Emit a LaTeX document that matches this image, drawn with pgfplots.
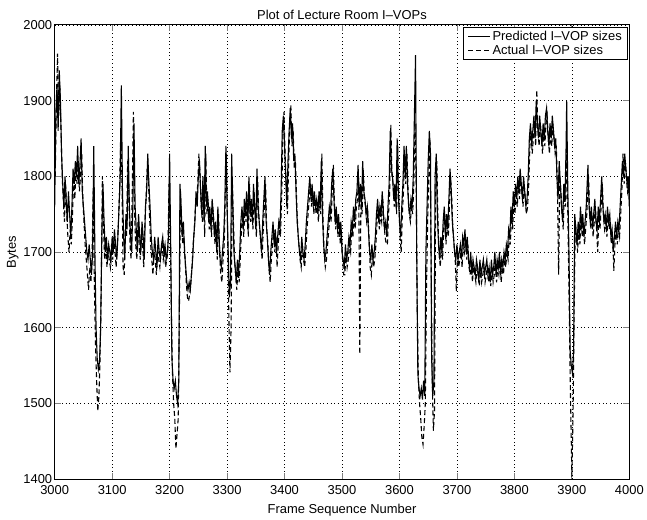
\documentclass[border=0pt]{standalone}
\usepackage{fontspec}
\setmainfont{Liberation Sans}
\usepackage{pgfplots}
\pgfplotsset{compat=1.18}
\begin{document}
\begin{tikzpicture}
\begin{axis}[
    scale only axis,
    width=578pt, height=457pt,
    xmin=3000, xmax=4000, ymin=1400, ymax=2000,
    xtick={3000,3100,...,4000},
    ytick={1400,1500,...,2000},
    /pgf/number format/1000 sep={},
    /pgf/number format/assume math mode=true,
    tick label style={font=\fontsize{13}{15}\selectfont},
    xticklabel style={yshift=-3pt},
    yticklabel style={xshift=1pt},
    tick align=inside,
    major tick length=6pt,
    tick style={line width=0.8pt},
    grid=major,
    grid style={black, line width=0.7pt, dash pattern=on 0.7pt off 3pt},
    xlabel={Frame Sequence Number},
    ylabel={Bytes},
    label style={font=\fontsize{13}{15}\selectfont},
    xlabel style={yshift=-2pt},
    ylabel style={yshift=-2pt},
    title={Plot of Lecture Room I--VOPs},
    title style={font=\fontsize{13}{15}\selectfont, yshift=-4pt},
    axis line style={line width=1pt},
    legend style={at={(0.998,0.995)}, anchor=north east, draw=black, line width=0.8pt,
        font=\fontsize{13}{16}\selectfont, inner xsep=4pt, inner ysep=1.5pt, row sep=-1pt},
    legend cell align=left,
    legend image code/.code={\draw[#1, line width=1pt] (0pt,0pt) -- (22pt,0pt);},
]
% predicted sizes
\addplot[black, line width=1.1pt] coordinates {
(3000,1760) (3002,1880) (3004,1920) (3006,1860) (3008,1940) (3010,1900) (3012,1830) (3014,1790) (3016,1760) (3018,1800) (3020,1770) (3022,1740) (3024,1780) (3026,1750) (3028,1720) (3030,1760) (3032,1810) (3034,1790) (3036,1820) (3038,1800) (3040,1840) (3042,1790) (3044,1815) (3046,1850) (3048,1780) (3050,1760)
(3052,1740) (3054,1720) (3056,1700) (3058,1690) (3060,1710) (3062,1690) (3064,1670) (3066,1700) (3068,1840) (3070,1700) (3072,1600) (3074,1560) (3076,1545) (3078,1555) (3080,1600) (3082,1720) (3084,1790) (3086,1740) (3088,1700) (3090,1720) (3092,1690) (3094,1710) (3096,1700) (3098,1690) (3100,1720)
(3102,1700) (3104,1730) (3106,1710) (3108,1690) (3110,1720) (3112,1760) (3114,1800) (3116,1920) (3118,1780) (3120,1720) (3122,1690) (3124,1750) (3126,1730) (3128,1840) (3130,1760) (3132,1720) (3134,1700) (3136,1760) (3138,1870) (3140,1760) (3142,1730) (3144,1700) (3146,1750) (3148,1720) (3150,1700)
(3152,1740) (3154,1720) (3156,1690) (3158,1760) (3160,1780) (3162,1830) (3164,1790) (3166,1760) (3168,1720) (3170,1700) (3172,1690) (3174,1720) (3176,1700) (3178,1680) (3180,1720) (3182,1700) (3184,1690) (3186,1710) (3188,1720) (3190,1700) (3192,1710) (3194,1690) (3196,1700) (3198,1720) (3200,1830)
(3202,1700) (3204,1560) (3206,1530) (3208,1520) (3210,1530) (3212,1510) (3214,1500) (3216,1530) (3218,1790) (3220,1760) (3222,1720) (3224,1740) (3226,1700) (3228,1680) (3230,1660) (3232,1650) (3234,1660) (3236,1650) (3238,1670) (3240,1690) (3242,1720) (3244,1740) (3246,1780) (3248,1760) (3250,1800)
(3252,1820) (3254,1780) (3256,1750) (3258,1800) (3260,1740) (3262,1840) (3264,1760) (3266,1780) (3268,1740) (3270,1760) (3272,1730) (3274,1770) (3276,1750) (3278,1720) (3280,1740) (3282,1700) (3284,1760) (3286,1720) (3288,1690) (3290,1680) (3292,1700) (3294,1720) (3296,1760) (3298,1840) (3300,1760)
(3302,1700) (3304,1640) (3306,1660) (3308,1830) (3310,1760) (3312,1700) (3314,1680) (3316,1660) (3318,1690) (3320,1670) (3322,1700) (3324,1740) (3326,1760) (3328,1730) (3330,1770) (3332,1750) (3334,1780) (3336,1730) (3338,1800) (3340,1750) (3342,1770) (3344,1740) (3346,1790) (3348,1760) (3350,1730)
(3352,1810) (3354,1760) (3356,1740) (3358,1720) (3360,1700) (3362,1740) (3364,1770) (3366,1800) (3368,1740) (3370,1720) (3372,1690) (3374,1670) (3376,1700) (3378,1720) (3380,1740) (3382,1710) (3384,1730) (3386,1700) (3388,1720) (3390,1740) (3392,1730) (3394,1780) (3396,1860) (3398,1880) (3400,1840)
(3402,1800) (3404,1760) (3406,1820) (3408,1860) (3410,1890) (3412,1850) (3414,1870) (3416,1820) (3418,1830) (3420,1780) (3422,1740) (3424,1720) (3426,1700) (3428,1690) (3430,1720) (3432,1700) (3434,1690) (3436,1710) (3438,1740) (3440,1760) (3442,1780) (3444,1800) (3446,1770) (3448,1790) (3450,1760)
(3452,1780) (3454,1760) (3456,1770) (3458,1750) (3460,1780) (3462,1760) (3464,1820) (3466,1750) (3468,1710) (3470,1690) (3472,1700) (3474,1720) (3476,1740) (3478,1760) (3480,1750) (3482,1790) (3484,1810) (3486,1770) (3488,1740) (3490,1760) (3492,1730) (3494,1750) (3496,1720) (3498,1740) (3500,1700)
(3502,1690) (3504,1680) (3506,1710) (3508,1690) (3510,1700) (3512,1720) (3514,1710) (3516,1740) (3518,1730) (3520,1760) (3522,1740) (3524,1770) (3526,1780) (3528,1815) (3530,1760) (3532,1790) (3534,1760) (3536,1820) (3538,1780) (3540,1770) (3542,1750) (3544,1760) (3546,1730) (3548,1700) (3550,1690)
(3552,1710) (3554,1690) (3556,1700) (3558,1720) (3560,1750) (3562,1770) (3564,1740) (3566,1760) (3568,1750) (3570,1780) (3572,1750) (3574,1730) (3576,1740) (3578,1720) (3580,1760) (3582,1790) (3584,1860) (3586,1810) (3588,1800) (3590,1770) (3592,1790) (3594,1760) (3596,1850) (3598,1780) (3600,1740)
(3602,1720) (3604,1760) (3606,1790) (3608,1840) (3610,1800) (3612,1840) (3614,1790) (3616,1760) (3618,1750) (3620,1770) (3622,1760) (3624,1800) (3626,1880) (3628,1960) (3630,1700) (3632,1540) (3634,1520) (3636,1510) (3638,1520) (3640,1505) (3642,1530) (3644,1510) (3646,1700) (3648,1760) (3650,1820)
(3652,1860) (3654,1830) (3656,1560) (3658,1510) (3660,1530) (3662,1800) (3664,1830) (3666,1750) (3668,1710) (3670,1690) (3672,1720) (3674,1700) (3676,1740) (3678,1760) (3680,1720) (3682,1750) (3684,1730) (3686,1770) (3688,1810) (3690,1780) (3692,1740) (3694,1720) (3696,1700) (3698,1690) (3700,1710)
(3702,1690) (3704,1700) (3706,1710) (3708,1690) (3710,1720) (3712,1710) (3714,1730) (3716,1700) (3718,1720) (3720,1690) (3722,1680) (3724,1700) (3726,1670) (3728,1690) (3730,1680) (3732,1670) (3734,1690) (3736,1680) (3738,1660) (3740,1690) (3742,1670) (3744,1680) (3746,1690) (3748,1670) (3750,1680)
(3752,1690) (3754,1670) (3756,1680) (3758,1660) (3760,1690) (3762,1670) (3764,1680) (3766,1700) (3768,1670) (3770,1690) (3772,1680) (3774,1700) (3776,1670) (3778,1690) (3780,1680) (3782,1700) (3784,1690) (3786,1710) (3788,1700) (3790,1730) (3792,1720) (3794,1760) (3796,1740) (3798,1780) (3800,1760)
(3802,1790) (3804,1770) (3806,1800) (3808,1780) (3810,1810) (3812,1790) (3814,1770) (3816,1800) (3818,1780) (3820,1760) (3822,1770) (3824,1800) (3826,1850) (3828,1870) (3830,1840) (3832,1860) (3834,1880) (3836,1850) (3838,1900) (3840,1870) (3842,1850) (3844,1880) (3846,1860) (3848,1840) (3850,1870)
(3852,1850) (3854,1880) (3856,1890) (3858,1860) (3860,1840) (3862,1870) (3864,1850) (3866,1880) (3868,1860) (3870,1840) (3872,1850) (3874,1800) (3876,1770) (3878,1820) (3880,1790) (3882,1760) (3884,1740) (3886,1790) (3888,1770) (3890,1840) (3891,1900) (3893,1780) (3895,1700) (3897,1570) (3899,1550) (3901,1540) (3903,1570) (3905,1750)
(3907,1730) (3909,1710) (3911,1740) (3913,1720) (3915,1760) (3917,1730) (3919,1750) (3921,1720) (3923,1740) (3925,1760) (3928,1815) (3930,1760) (3932,1740) (3934,1760) (3936,1730) (3938,1750) (3940,1770) (3942,1740) (3944,1730) (3946,1760) (3948,1740) (3950,1770) (3952,1800) (3954,1760) (3956,1740)
(3958,1750) (3960,1730) (3962,1760) (3964,1740) (3966,1750) (3968,1720) (3970,1730) (3972,1700) (3974,1720) (3976,1740) (3978,1720) (3980,1740) (3982,1730) (3984,1760) (3986,1790) (3988,1820) (3990,1800) (3992,1830) (3994,1810) (3996,1790) (3998,1800) (4000,1760)
};
\addlegendentry{Predicted I--VOP sizes}
% actual sizes
\addplot[black, line width=1.1pt, dash pattern=on 5pt off 3pt] coordinates {
(3001,1800) (3003,1900) (3005,1962) (3007,1880) (3009,1920) (3011,1860) (3013,1800) (3015,1770) (3017,1740) (3019,1790) (3021,1750) (3023,1720) (3025,1700) (3027,1730) (3029,1710) (3031,1750) (3033,1800) (3035,1770) (3037,1810) (3039,1790) (3041,1820) (3043,1780) (3045,1800) (3047,1830) (3049,1770)
(3051,1740) (3053,1710) (3055,1690) (3057,1670) (3059,1650) (3061,1680) (3063,1660) (3065,1690) (3067,1780) (3069,1660) (3071,1580) (3073,1530) (3075,1490) (3077,1510) (3079,1560) (3081,1650) (3083,1800) (3085,1730) (3087,1690) (3089,1710) (3091,1680) (3093,1700) (3095,1690) (3097,1680) (3099,1710)
(3101,1690) (3103,1720) (3105,1700) (3107,1680) (3109,1710) (3111,1740) (3113,1780) (3115,1860) (3117,1800) (3119,1680) (3121,1670) (3123,1730) (3125,1720) (3127,1820) (3129,1780) (3131,1710) (3133,1690) (3135,1780) (3137,1885) (3139,1750) (3141,1710) (3143,1690) (3145,1740) (3147,1710) (3149,1690)
(3151,1730) (3153,1710) (3155,1680) (3157,1740) (3159,1770) (3161,1810) (3163,1800) (3165,1750) (3167,1710) (3169,1690) (3171,1670) (3173,1700) (3175,1690) (3177,1670) (3179,1700) (3181,1690) (3183,1680) (3185,1700) (3187,1710) (3189,1690) (3191,1700) (3193,1680) (3195,1690) (3197,1700) (3199,1790)
(3201,1740) (3203,1620) (3205,1540) (3207,1500) (3209,1480) (3211,1440) (3213,1460) (3215,1480) (3217,1620) (3219,1780) (3221,1730) (3223,1710) (3225,1720) (3227,1690) (3229,1660) (3231,1640) (3233,1635) (3235,1645) (3237,1660) (3239,1680) (3241,1710) (3243,1730) (3245,1760) (3247,1770) (3249,1790)
(3251,1830) (3253,1800) (3255,1760) (3257,1740) (3259,1790) (3261,1720) (3263,1830) (3265,1750) (3267,1770) (3269,1730) (3271,1750) (3273,1720) (3275,1760) (3277,1740) (3279,1710) (3281,1730) (3283,1690) (3285,1750) (3287,1700) (3289,1670) (3291,1660) (3293,1690) (3295,1710) (3297,1780) (3299,1830)
(3301,1720) (3303,1620) (3305,1541) (3307,1600) (3309,1800) (3311,1740) (3313,1690) (3315,1670) (3317,1650) (3319,1680) (3321,1660) (3323,1690) (3325,1730) (3327,1750) (3329,1720) (3331,1760) (3333,1740) (3335,1770) (3337,1720) (3339,1790) (3341,1740) (3343,1760) (3345,1730) (3347,1780) (3349,1750)
(3351,1720) (3353,1800) (3355,1750) (3357,1730) (3359,1710) (3361,1690) (3363,1730) (3365,1760) (3367,1790) (3369,1730) (3371,1710) (3373,1680) (3375,1660) (3377,1690) (3379,1710) (3381,1730) (3383,1700) (3385,1720) (3387,1680) (3389,1710) (3391,1730) (3393,1720) (3395,1770) (3397,1850) (3399,1885)
(3401,1830) (3403,1790) (3405,1750) (3407,1810) (3409,1870) (3411,1894) (3413,1840) (3415,1860) (3417,1810) (3419,1820) (3421,1770) (3423,1730) (3425,1710) (3427,1690) (3429,1680) (3431,1710) (3433,1690) (3435,1680) (3437,1700) (3439,1730) (3441,1750) (3443,1770) (3445,1790) (3447,1760) (3449,1780)
(3451,1750) (3453,1770) (3455,1750) (3457,1760) (3459,1740) (3461,1770) (3463,1750) (3465,1830) (3467,1740) (3469,1700) (3471,1680) (3473,1690) (3475,1710) (3477,1730) (3479,1750) (3481,1740) (3483,1780) (3485,1815) (3487,1760) (3489,1730) (3491,1750) (3493,1720) (3495,1740) (3497,1710) (3499,1730)
(3501,1690) (3503,1670) (3505,1670) (3507,1700) (3509,1680) (3511,1690) (3513,1710) (3515,1700) (3517,1730) (3519,1720) (3521,1750) (3523,1730) (3525,1760) (3527,1770) (3529,1800) (3531,1565) (3533,1780) (3535,1750) (3537,1810) (3539,1770) (3541,1760) (3543,1740) (3545,1750) (3547,1720) (3549,1680)
(3551,1670) (3553,1700) (3555,1680) (3557,1690) (3559,1710) (3561,1740) (3563,1760) (3565,1730) (3567,1750) (3569,1740) (3571,1770) (3573,1740) (3575,1720) (3577,1710) (3579,1710) (3581,1750) (3583,1780) (3585,1868) (3587,1800) (3589,1790) (3591,1760) (3593,1780) (3595,1750) (3597,1840) (3599,1770)
(3601,1720) (3603,1700) (3605,1750) (3607,1780) (3609,1830) (3611,1790) (3613,1830) (3615,1780) (3617,1750) (3619,1740) (3621,1760) (3623,1750) (3625,1790) (3627,1870) (3629,1800) (3631,1620) (3633,1530) (3635,1500) (3637,1480) (3639,1455) (3641,1446) (3643,1470) (3645,1500) (3647,1650) (3649,1740) (3651,1800)
(3653,1850) (3655,1700) (3657,1530) (3659,1464) (3661,1490) (3663,1780) (3665,1820) (3667,1740) (3669,1700) (3671,1680) (3673,1710) (3675,1690) (3677,1730) (3679,1750) (3681,1710) (3683,1740) (3685,1720) (3687,1760) (3689,1800) (3691,1770) (3693,1730) (3695,1710) (3697,1690) (3699,1648) (3701,1700)
(3703,1680) (3705,1690) (3707,1700) (3709,1680) (3711,1710) (3713,1700) (3715,1720) (3717,1690) (3719,1710) (3721,1680) (3723,1670) (3725,1690) (3727,1660) (3729,1680) (3731,1670) (3733,1660) (3735,1680) (3737,1670) (3739,1655) (3741,1680) (3743,1660) (3745,1670) (3747,1680) (3749,1660) (3751,1670)
(3753,1680) (3755,1660) (3757,1670) (3759,1655) (3761,1680) (3763,1660) (3765,1670) (3767,1690) (3769,1660) (3771,1680) (3773,1670) (3775,1690) (3777,1660) (3779,1680) (3781,1670) (3783,1690) (3785,1680) (3787,1700) (3789,1690) (3791,1720) (3793,1710) (3795,1750) (3797,1730) (3799,1770) (3801,1750)
(3803,1780) (3805,1760) (3807,1790) (3809,1770) (3811,1800) (3813,1780) (3815,1760) (3817,1790) (3819,1770) (3821,1750) (3823,1760) (3825,1790) (3827,1840) (3829,1860) (3831,1830) (3833,1850) (3835,1870) (3837,1840) (3839,1914) (3841,1860) (3843,1840) (3845,1870) (3847,1850) (3849,1830) (3851,1860)
(3853,1840) (3855,1870) (3857,1880) (3859,1850) (3861,1830) (3863,1860) (3865,1840) (3867,1870) (3869,1850) (3871,1830) (3873,1840) (3875,1780) (3877,1670) (3879,1800) (3881,1780) (3883,1750) (3885,1730) (3887,1780) (3889,1760) (3891,1830) (3893,1750) (3895,1650) (3897,1540) (3899,1450) (3900,1403) (3902,1480) (3904,1620) (3906,1740)
(3908,1720) (3910,1700) (3912,1730) (3914,1710) (3916,1750) (3918,1720) (3920,1740) (3922,1710) (3924,1730) (3926,1750) (3929,1800) (3931,1750) (3933,1730) (3935,1750) (3937,1720) (3939,1740) (3941,1760) (3943,1730) (3945,1700) (3947,1750) (3949,1730) (3951,1760) (3953,1790) (3955,1750) (3957,1730)
(3959,1740) (3961,1720) (3963,1750) (3965,1730) (3967,1740) (3969,1710) (3971,1720) (3973,1675) (3975,1710) (3977,1730) (3979,1710) (3981,1730) (3983,1720) (3985,1750) (3987,1780) (3989,1830) (3991,1790) (3993,1820) (3995,1800) (3997,1780) (3999,1790)
};
\addlegendentry{Actual I--VOP sizes}
\end{axis}
\path (current axis.south west) ++(-55pt,-40pt) (current axis.north east) ++(14pt,25pt);
\end{tikzpicture}
\end{document}
